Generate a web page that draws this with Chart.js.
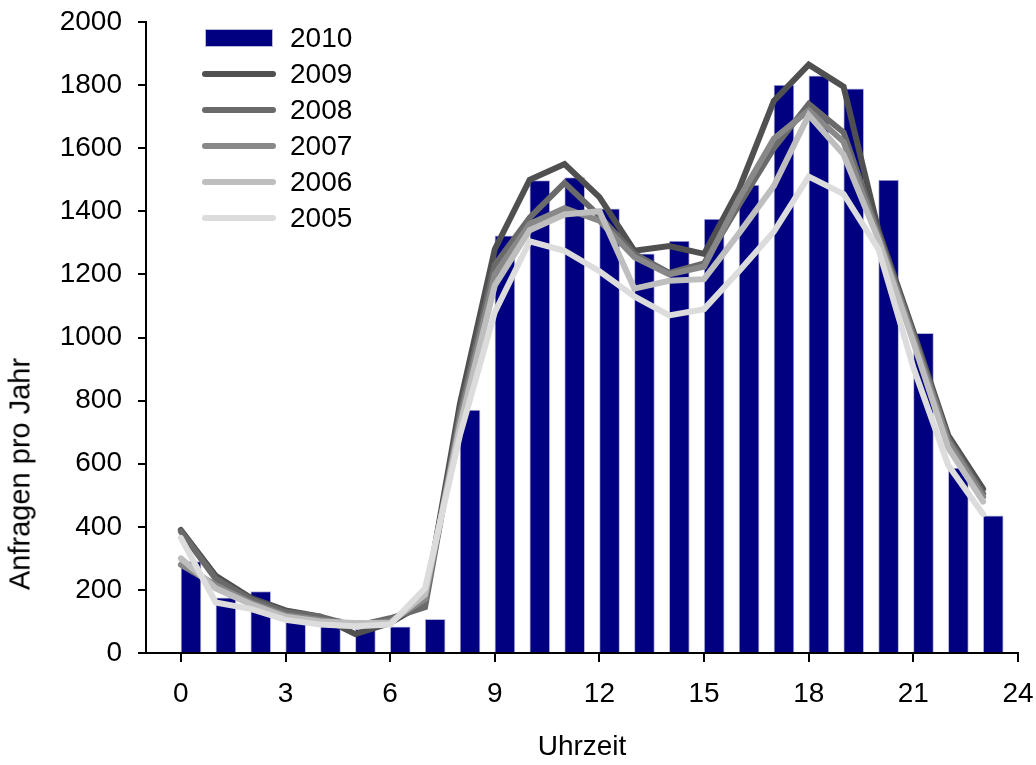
<!DOCTYPE html>
<html>
<head>
<meta charset="utf-8">
<script src="https://cdn.jsdelivr.net/npm/chart.js@4.4.1/dist/chart.umd.min.js"></script>
<style>
  html, body { margin: 0; padding: 0; background: #fff; }
  #wrap { position: relative; width: 1036px; height: 765px; }
  #legend {
    position: absolute; left: 202px; top: 20px;
    font-family: "Liberation Sans", Arial, sans-serif; font-size: 28px; color: #000;
  }
  .item { display: flex; align-items: center; height: 36px; }
  .swatch { width: 74px; height: 36px; margin-right: 14px; display: flex; align-items: center; justify-content: center; }
  .bar { width: 66px; height: 16px; border: 1px solid #b8b8d8; }
  .line { width: 74px; height: 6px; border-radius: 3px; }
  #ytitle {
    position: absolute; left: 20px; top: 474px; white-space: nowrap;
    transform: translate(-50%, -50%) rotate(-90deg);
    font-family: "Liberation Sans", Arial, sans-serif; font-size: 29px; color: #000;
  }
</style>
</head>
<body>
<div id="wrap">
  <canvas id="chart" width="1036" height="765"></canvas>
  <div id="legend"></div>
  <div id="ytitle">Anfragen pro Jahr</div>
</div>
<script>
// Stunden
const hours = [0, 1, 2, 3, 4, 5, 6, 7, 8, 9, 10, 11, 12, 13, 14, 15, 16, 17, 18, 19, 20, 21, 22, 23];
const xTicks = [0, 3, 6, 9, 12, 15, 18, 21, 24];

// Anfragen pro Jahr
const bars2010 = [290, 175, 195, 134, 110, 75, 83, 107, 770, 1322, 1497, 1507, 1408, 1265, 1306, 1375, 1483, 1800, 1829, 1788, 1499, 1013, 586, 435];
const line2009 = [390, 245, 175, 135, 115, 60, 95, 160, 790, 1280, 1500, 1550, 1445, 1275, 1290, 1265, 1470, 1750, 1865, 1795, 1340, 1020, 690, 520];
const line2008 = [385, 235, 170, 130, 115, 85, 110, 145, 760, 1230, 1380, 1490, 1385, 1265, 1205, 1235, 1420, 1600, 1740, 1650, 1330, 1010, 680, 505];
const line2007 = [280, 215, 160, 120, 105, 90, 100, 170, 740, 1200, 1360, 1410, 1370, 1255, 1200, 1225, 1440, 1630, 1720, 1620, 1320, 1000, 670, 495];
const line2006 = [300, 205, 155, 115, 100, 95, 95, 185, 720, 1165, 1340, 1390, 1400, 1155, 1180, 1185, 1330, 1480, 1705, 1580, 1310, 985, 650, 480];
const line2005 = [365, 160, 140, 105, 90, 85, 90, 205, 690, 1080, 1305, 1275, 1210, 1130, 1070, 1090, 1210, 1335, 1510, 1455, 1280, 905, 595, 440];

const lineSeries = [
    { label: '2009', values: line2009, color: '#505050' },
    { label: '2008', values: line2008, color: '#6a6a6a' },
    { label: '2007', values: line2007, color: '#888888' },
    { label: '2006', values: line2006, color: '#bebebe' },
    { label: '2005', values: line2005, color: '#dcdcdc' }
];

// Balken beginnen an der Stunde, nicht mittig
const barShift = 0.29;

Chart.defaults.font.family = '"Liberation Sans", Arial, sans-serif';
Chart.defaults.color = '#000';

const datasets = [{
    type: 'bar',
    label: '2010',
    data: hours.map((h, i) => ({ x: h + barShift, y: bars2010[i] })),
    backgroundColor: '#000080',
    borderColor: '#b8b8d8',
    borderWidth: 1,
    barThickness: 20,
    order: 10
}];

lineSeries.forEach((s, i) => {
    datasets.push({
        type: 'line',
        label: s.label,
        data: hours.map((h, j) => ({ x: h, y: s.values[j] })),
        borderColor: s.color,
        backgroundColor: s.color,
        borderWidth: 6,
        borderCapStyle: 'round',
        borderJoinStyle: 'miter',
        pointRadius: 0,
        tension: 0,
        fill: false,
        order: 5 - i
    });
});

const chart = new Chart(document.getElementById('chart'), {
    type: 'bar',
    data: { datasets },
    options: {
        responsive: false,
        animation: false,
        layout: { padding: { left: 0, right: 18, top: 22, bottom: 0 } },
        plugins: {
            legend: { display: false },
            tooltip: { enabled: false }
        },
        scales: {
            x: {
                type: 'linear',
                min: -1,
                max: 24,
                offset: false,
                afterBuildTicks: scale => { scale.ticks = xTicks.map(v => ({ value: v })); },
                afterFit: scale => { scale.height = 112; scale.paddingRight = 0; scale.paddingLeft = 0; },
                ticks: { font: { size: 28 }, padding: 15, maxRotation: 0, autoSkip: false },
                grid: { offset: false, drawOnChartArea: false, drawTicks: true, tickLength: 9, color: '#000', lineWidth: 2 },
                border: { color: '#000', width: 2 },
                title: { display: true, text: 'Uhrzeit', font: { size: 28 }, padding: { top: 0, bottom: 1 } }
            },
            y: {
                min: 0,
                max: 2000,
                ticks: { stepSize: 200, font: { size: 28 }, padding: 16, callback: v => String(v) },
                afterFit: scale => { scale.width = 146; scale.paddingTop = 0; scale.paddingBottom = 0; },
                grid: { drawOnChartArea: false, drawTicks: true, tickLength: 8, color: '#000', lineWidth: 2 },
                border: { color: '#000', width: 2 }
            }
        }
    }
});

// Legende
const legend = document.getElementById('legend');
chart.data.datasets.forEach(ds => {
    const item = document.createElement('div');
    item.className = 'item';
    const swatch = document.createElement('div');
    swatch.className = 'swatch';
    const mark = document.createElement('div');
    mark.className = ds.type === 'bar' ? 'bar' : 'line';
    mark.style.backgroundColor = ds.type === 'bar' ? ds.backgroundColor : ds.borderColor;
    swatch.appendChild(mark);
    const text = document.createElement('span');
    text.textContent = ds.label;
    item.appendChild(swatch);
    item.appendChild(text);
    legend.appendChild(item);
});
</script>
</body>
</html>
